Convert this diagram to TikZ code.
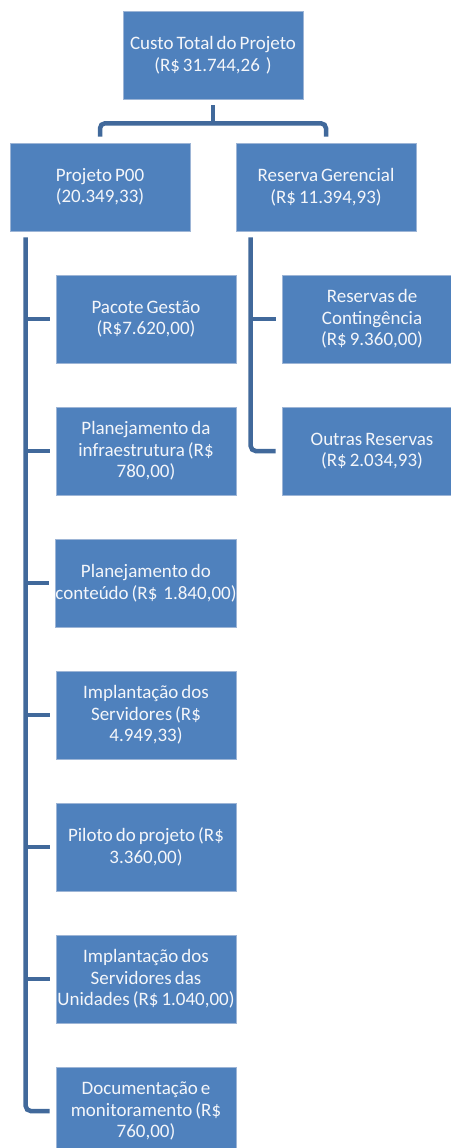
\documentclass[tikz,border=0pt]{standalone}
\usepackage{fontspec}
\setmainfont{Carlito}[WordSpace=0.7]
\definecolor{boxfill}{HTML}{4F81BD}
\definecolor{boxedge}{HTML}{9DB5D6}
\definecolor{connblue}{HTML}{41699B}
\definecolor{txt}{HTML}{F4F6FA}
\begin{document}
\begin{tikzpicture}[x=1pt,y=-1pt,
  wbsbox/.style={draw=boxedge, line width=0.6pt, fill=boxfill, minimum width=180pt, minimum height=88pt,
    align=center, inner sep=0pt, text=txt, font=\fontsize{19}{21.5}\selectfont},
  conn/.style={draw=connblue, line width=4.5pt},
  rconn/.style={conn, rounded corners=5pt}]
\useasboundingbox (0,0) rectangle (450,1148);
\fill[white] (0,0) rectangle (450,1148);

\node[wbsbox] (top) at (213,55) {Custo Total do Projeto\\(R\$ 31.744,26\ \ )};
\node[wbsbox] (p00) at (100,187) {Projeto P00\\(20.349,33)};
\node[wbsbox] (res) at (326,187) {Reserva Gerencial\\(R\$ 11.394,93)};

\node[wbsbox] (c1) at (146,319) {Pacote Gestão\\(R\$7.620,00)};
\node[wbsbox] (c2) at (146,451) {Planejamento da\\infraestrutura (R\$\\780,00)};
\node[wbsbox] (c3) at (146,583) {Planejamento do\\conteúdo (R\$\ \ 1.840,00)};
\node[wbsbox] (c4) at (146,715) {Implantação dos\\Servidores (R\$\\4.949,33)};
\node[wbsbox] (c5) at (146,847) {Piloto do projeto (R\$\\3.360,00)};
\node[wbsbox] (c6) at (146,979) {Implantação dos\\Servidores das\\Unidades (R\$ 1.040,00)};
\node[wbsbox] (c7) at (146,1111) {Documentação e\\monitoramento (R\$\\760,00)};

\node[wbsbox] (r1) at (372,319) {Reservas de\\Contingência\\(R\$ 9.360,00)};
\node[wbsbox] (r2) at (372,451) {Outras Reservas\\(R\$ 2.034,93)};

% top connectors
\coordinate (tj) at ([yshift=-24pt]top.south);
\draw[conn] ([yshift=-6pt]top.south) -- (tj);
\draw[rconn] ([yshift=6pt]p00.north) |- (tj) -| ([yshift=6pt]res.north);

% left spine
\coordinate (lsp) at ([xshift=16pt,yshift=-6pt]p00.south west);
\draw[rconn] (lsp) |- ([xshift=-6pt]c7.west);
\foreach \c in {c1,c2,c3,c4,c5,c6}
  \draw[conn] (\c.west -| lsp) -- ([xshift=-6pt]\c.west);

% right spine
\coordinate (rsp) at ([xshift=15pt,yshift=-6pt]res.south west);
\draw[rconn] (rsp) |- ([xshift=-6pt]r2.west);
\draw[conn] (r1.west -| rsp) -- ([xshift=-6pt]r1.west);
\end{tikzpicture}
\end{document}
